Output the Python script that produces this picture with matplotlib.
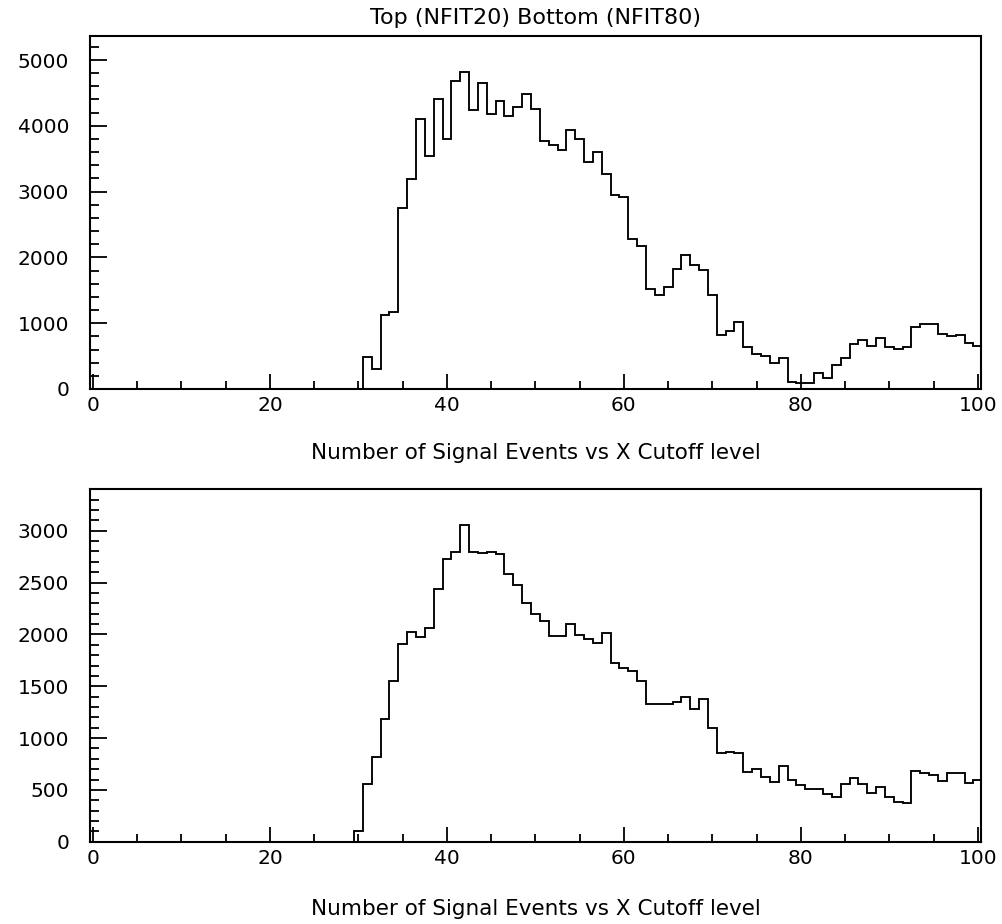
import numpy as np
import matplotlib
matplotlib.use("Agg")
import matplotlib.pyplot as plt
from matplotlib.ticker import MultipleLocator

# ---- data -------------------------------------------------------------
title_text = "Top (NFIT20) Bottom (NFIT80)"
xlabel_text = "Number of Signal Events vs X Cutoff level"

bin_edges = np.arange(-0.5, 101.5, 1.0)          # 101 bins centred on 0..100

# NFIT20 (top), bins 0..100
top_counts = [0] * 30 + [
    0,                                              # 30
    490, 300, 1125, 1175, 2746, 3187, 4098, 3546, 4402, 3794,   # 31-40
    4676, 4813, 4235, 4651, 4174, 4377, 4144, 4291, 4483, 4260, # 41-50
    3764, 3708, 3632, 3936, 3800, 3455, 3597, 3268, 2948, 2913, # 51-60
    2275, 2168, 1525, 1429, 1545, 1819, 2031, 1885, 1809, 1429, # 61-70
    821, 887, 1013, 633, 532, 507, 390, 466, 111, 86,           # 71-80
    86, 248, 162, 365, 466, 684, 745, 659, 770, 633,            # 81-90
    603, 633, 937, 988, 988, 836, 805, 820, 694, 659,           # 91-100
]

# NFIT80 (bottom), bins 0..100
bottom_counts = [0] * 30 + [
    103,                                            # 30
    556, 820, 1183, 1550, 1903, 2019, 1977, 2064, 2434, 2723,   # 31-40
    2797, 3054, 2797, 2781, 2797, 2775, 2582, 2476, 2299, 2193, # 41-50
    2128, 1987, 1987, 2096, 1993, 1955, 1913, 2009, 1726, 1672, # 51-60
    1649, 1550, 1325, 1325, 1330, 1350, 1392, 1276, 1376, 1100, # 61-70
    852, 868, 852, 675, 698, 627, 572, 730, 595, 547,           # 71-80
    505, 505, 457, 434, 556, 611, 556, 466, 524, 428,           # 81-90
    386, 370, 682, 659, 643, 588, 659, 659, 569, 595,           # 91-100
]

x_major = [0, 20, 40, 60, 80, 100]
top_yticks = [0, 1000, 2000, 3000, 4000, 5000]
bottom_yticks = [0, 500, 1000, 1500, 2000, 2500, 3000]

# ---- figure -----------------------------------------------------------
plt.rcParams['font.family'] = ['DejaVu Sans']
fig = plt.figure(figsize=(10.03, 9.24), dpi=100)

W, H = 1003.0, 924.0
def axes_rect(left, right, top, bottom):
    return [left / W, 1 - bottom / H, (right - left) / W, (bottom - top) / H]

ax_top = fig.add_axes(axes_rect(90, 981, 36, 389))
ax_bot = fig.add_axes(axes_rect(90, 981, 489.3, 841.7))

def style(ax, counts, yticks, ymax, yminor, label_y):
    ax.stairs(counts, bin_edges, baseline=0, color='black', linewidth=1.35)
    ax.set_xlim(-0.34, 100.36)
    ax.set_ylim(0, ymax)
    ax.set_xticks(x_major)
    ax.xaxis.set_minor_locator(MultipleLocator(5))
    ax.set_yticks(yticks)
    ax.yaxis.set_minor_locator(MultipleLocator(yminor))
    for sp in ax.spines.values():
        sp.set_linewidth(1.5)
        sp.set_color('black')
    ax.tick_params(axis='both', which='both', direction='in', top=False,
                   right=False, width=1.3, colors='black', labelsize=14.5)
    ax.tick_params(axis='x', which='major', length=10.5, pad=5)
    ax.tick_params(axis='x', which='minor', length=5.5)
    ax.tick_params(axis='y', which='major', length=12, pad=15)
    ax.tick_params(axis='y', which='minor', length=6.5)
    ax.set_xlabel(xlabel_text, fontsize=15.5)
    ax.xaxis.set_label_coords(0.5, label_y)
    ax.xaxis.label.set_verticalalignment('center')

style(ax_top, top_counts, top_yticks, 5365, 200, -0.182)
style(ax_bot, bottom_counts, bottom_yticks, 3400, 100, -0.19)

ax_top.set_title(title_text, fontsize=16, pad=9)

fig.savefig("out.png", dpi=100)
